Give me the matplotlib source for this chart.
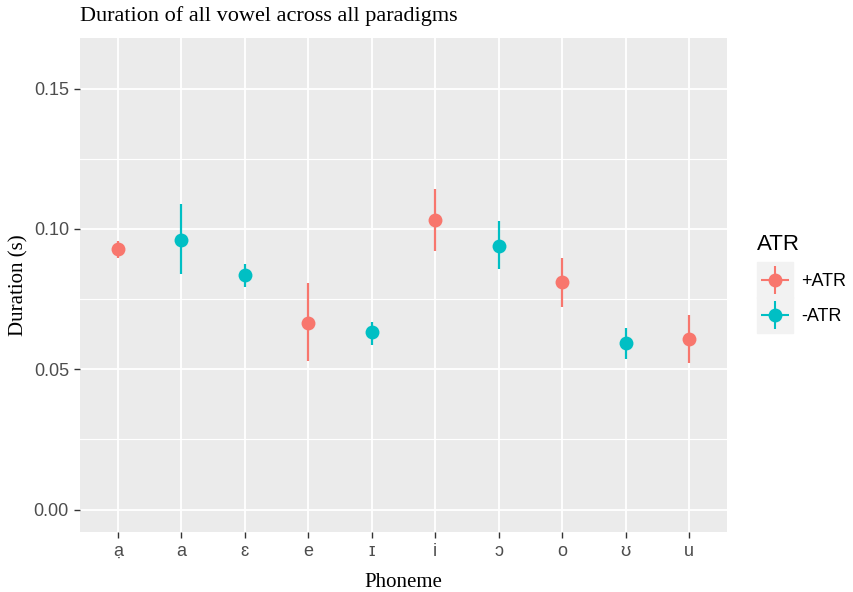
import matplotlib
matplotlib.use("Agg")
import matplotlib.pyplot as plt
from matplotlib.lines import Line2D
from matplotlib.legend_handler import HandlerTuple

# data
phonemes = ["ạ", "a", "ɛ", "e", "ɪ", "i", "ɔ", "o", "ʊ", "u"]
atr = ["+ATR", "-ATR", "-ATR", "+ATR", "-ATR", "+ATR", "-ATR", "+ATR", "-ATR", "+ATR"]
mean_dur = [0.0928, 0.0962, 0.0837, 0.0665, 0.0632, 0.1033, 0.0940, 0.0809, 0.0593, 0.0609]
low_dur = [0.0897, 0.0838, 0.0794, 0.0530, 0.0588, 0.0922, 0.0856, 0.0723, 0.0537, 0.0523]
high_dur = [0.0956, 0.1087, 0.0874, 0.0806, 0.0669, 0.1141, 0.1027, 0.0895, 0.0646, 0.0693]

colors = {"+ATR": "#F8766D", "-ATR": "#00BFC4"}
sans = ["Liberation Sans", "DejaVu Sans"]
serif = ["Liberation Serif", "DejaVu Serif"]

fig = plt.figure(figsize=(8.54, 5.92), dpi=100)
ax = fig.add_axes([80/854, 1-532/592, 647/854, 494/592])
ax.set_facecolor("#EBEBEB")
for s in ax.spines.values():
    s.set_visible(False)

x = list(range(1, len(phonemes) + 1))
for xi, m, lo, hi, g in zip(x, mean_dur, low_dur, high_dur, atr):
    ax.vlines(xi, lo, hi, color=colors[g], lw=1.6, zorder=3)
    ax.plot(xi, m, "o", color=colors[g], ms=10, mec="none", zorder=4)

ax.set_xlim(0.4, 10.6)
ax.set_ylim(-0.008, 0.168)
ax.set_xticks(x)
ax.set_xticklabels(phonemes, family=sans, fontsize=13, color="#4D4D4D")
ax.set_yticks([0.0, 0.05, 0.10, 0.15])
ax.set_yticklabels(["0.00", "0.05", "0.10", "0.15"], family=sans, fontsize=13, color="#4D4D4D")
ax.set_yticks([0.025, 0.075, 0.125], minor=True)
ax.tick_params(axis="both", which="major", length=4, width=1, color="#333333", pad=4)
ax.tick_params(axis="y", which="minor", length=0)
ax.grid(True, which="major", color="white", lw=1.3)
ax.grid(True, which="minor", axis="y", color="white", lw=0.8)
ax.set_axisbelow(True)

ax.set_xlabel("Phoneme", family=serif, fontsize=15, labelpad=9)
ax.set_ylabel("Duration (s)", family=serif, fontsize=15, labelpad=4)
fig.text(80/854, 1-16/592, "Duration of all vowel across all paradigms",
         family=serif, fontsize=16, va="center", ha="left")

handles = []
for g in ["+ATR", "-ATR"]:
    bg = Line2D([], [], marker="s", ms=25.5, color="#F2F2F2", ls="none")
    cross = Line2D([], [], marker="+", ms=20, mew=1.5, color=colors[g], ls="none")
    dot = Line2D([], [], marker="o", ms=10, mec="none", color=colors[g], ls="none")
    handles.append((bg, cross, dot))
leg = fig.legend(handles, ["+ATR", "-ATR"], handler_map={tuple: HandlerTuple(ndivide=1)},
                 loc="upper left", bbox_to_anchor=(757/854, 1-234/592), frameon=False,
                 title="ATR", prop={"family": sans, "size": 13},
                 handlelength=1.94, handletextpad=0.5, labelspacing=1.0,
                 borderpad=0, borderaxespad=0)
leg.get_title().set_fontsize(16)
leg.get_title().set_family(sans)
leg._legend_box.align = "left"

fig.savefig("out.png", dpi=100)
